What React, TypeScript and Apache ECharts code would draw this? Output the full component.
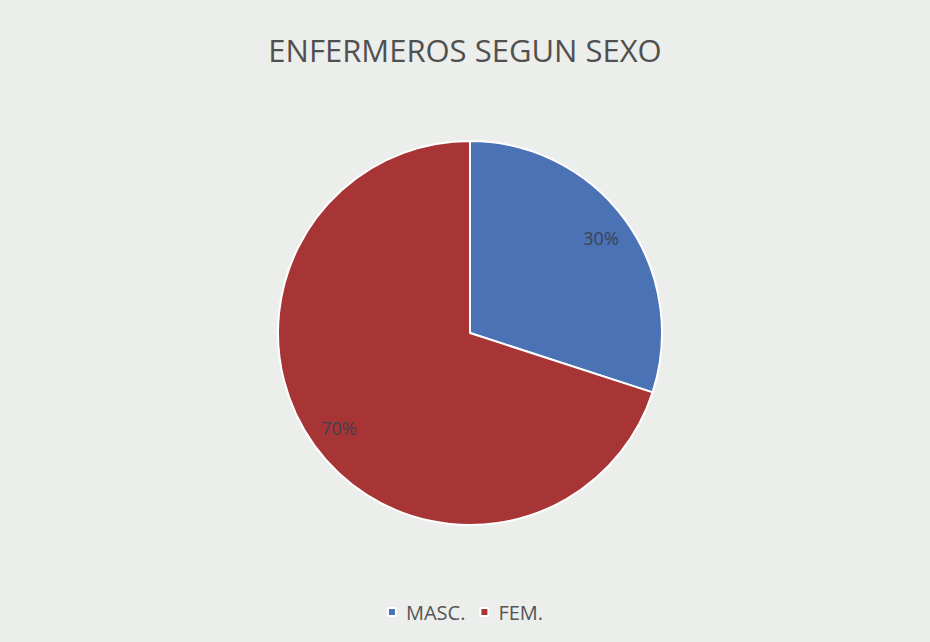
import React, { useEffect, useRef } from "react";
import * as echarts from "echarts";

const categories = ["MASC.", "FEM."];
const values = [30, 70];
const colors = ["#4a72b5", "#a83535"];
const titleText = "ENFERMEROS SEGUN SEXO";

export default function App() {
  const ref = useRef<HTMLDivElement>(null);
  useEffect(() => {
    document.body.style.margin = "0";
    const chart = echarts.init(ref.current!, null, { renderer: "svg" });
    const data = categories.map((name, i) => ({ name, value: values[i] }));
    chart.setOption({
      animation: false,
      backgroundColor: "#eceeeb",
      color: colors,
      title: {
        text: titleText,
        left: "center",
        top: 29,
        textStyle: {
          fontFamily: "Open Sans",
          fontSize: 31,
          fontWeight: "normal",
          color: "#505050",
        },
      },
      legend: {
        bottom: 15,
        left: "center",
        itemWidth: 8,
        itemHeight: 8,
        itemGap: 14,
        icon: "rect",
        textStyle: {
          fontFamily: "Open Sans",
          fontSize: 20,
          color: "#555555",
          padding: [0, 0, 0, 5],
        },
        data: categories,
      },
      series: [
        {
          type: "pie",
          center: [470, 333],
          radius: [0, 192],
          startAngle: 90,
          clockwise: true,
          data,
          label: { show: false },
          labelLine: { show: false },
          itemStyle: { borderColor: "#ffffff", borderWidth: 2 },
          emphasis: { disabled: true },
        },
        {
          type: "pie",
          center: [470, 333],
          radius: [126, 192],
          startAngle: 90,
          clockwise: true,
          silent: true,
          data,
          itemStyle: { color: "transparent", borderWidth: 0 },
          label: {
            show: true,
            position: "inside",
            formatter: "{d}%",
            fontFamily: "Open Sans",
            fontSize: 18,
            color: "#3c4250",
          },
          labelLine: { show: false },
          emphasis: { disabled: true },
        },
      ],
    });
    return () => chart.dispose();
  }, []);
  return <div ref={ref} style={{ width: 930, height: 642 }} />;
}
